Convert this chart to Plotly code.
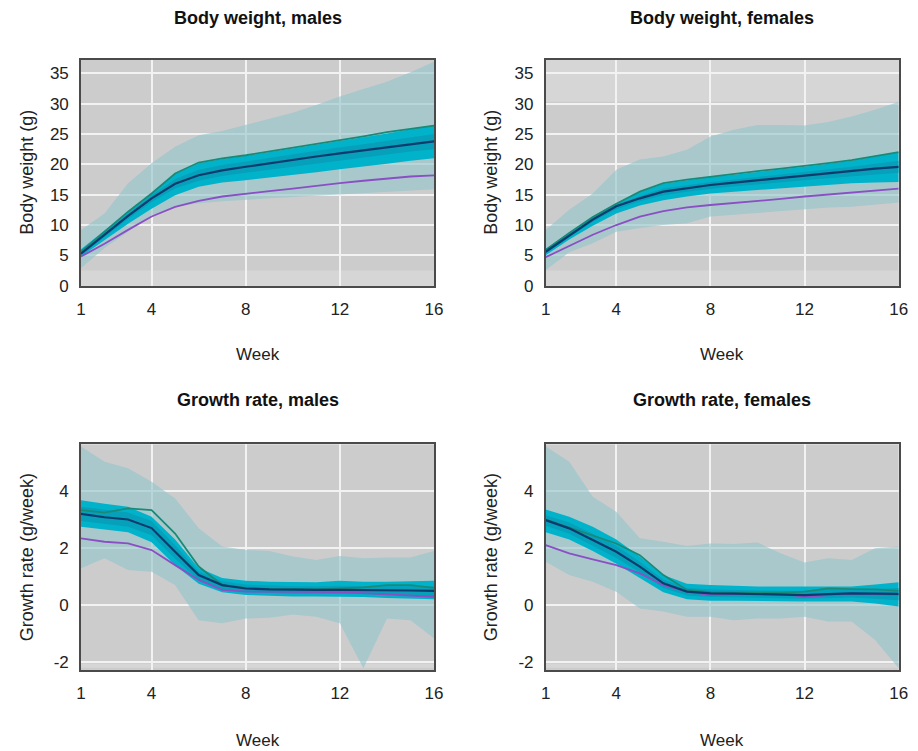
import plotly.graph_objects as go

weeks = list(range(1, 17))
x_tickvals = [1, 4, 8, 12, 16]

# ---- Body weight, males ----
bwm_mean = [5.3, 8.4, 11.5, 14.4, 16.8, 18.2, 19.0, 19.6, 20.2, 20.7, 21.3, 21.8, 22.3, 22.8, 23.3, 23.8]
bwm_upper = [5.6, 8.9, 12.2, 15.2, 18.5, 20.3, 21.0, 21.5, 22.1, 22.7, 23.4, 24.0, 24.6, 25.3, 25.9, 26.4]
bwm_lower = [4.8, 6.9, 9.2, 11.4, 13.0, 14.0, 14.7, 15.2, 15.6, 16.0, 16.5, 16.9, 17.3, 17.7, 18.0, 18.2]
bwm_cyan_hi = [6.0, 9.1, 12.3, 15.3, 18.4, 20.2, 20.9, 21.4, 22.0, 22.6, 23.2, 23.8, 24.4, 25.1, 25.8, 26.4]
bwm_cyan_lo = [4.8, 7.5, 10.2, 12.7, 14.9, 16.3, 17.0, 17.4, 17.8, 18.2, 18.7, 19.2, 19.6, 20.1, 20.6, 21.0]
bwm_inner_hi = [5.7, 8.8, 11.9, 14.9, 17.6, 19.1, 19.9, 20.5, 21.1, 21.6, 22.2, 22.8, 23.3, 23.9, 24.5, 25.0]
bwm_inner_lo = [5.0, 8.0, 11.0, 13.8, 16.0, 17.3, 18.1, 18.6, 19.1, 19.6, 20.2, 20.7, 21.2, 21.6, 22.1, 22.5]
bwm_range_hi = [9.2, 11.9, 16.9, 20.2, 22.9, 24.8, 25.5, 26.5, 27.5, 28.5, 29.8, 31.2, 32.4, 33.6, 35.2, 36.9]
bwm_range_lo = [2.9, 6.2, 8.9, 11.6, 13.0, 13.6, 13.9, 14.2, 14.4, 14.6, 14.8, 15.0, 15.2, 15.4, 15.6, 15.9]

# ---- Body weight, females ----
bwf_mean = [5.6, 8.3, 10.9, 13.1, 14.4, 15.5, 16.1, 16.6, 17.0, 17.4, 17.8, 18.1, 18.5, 18.9, 19.3, 19.6]
bwf_upper = [5.9, 8.7, 11.3, 13.5, 15.5, 16.9, 17.5, 18.0, 18.4, 18.9, 19.3, 19.7, 20.2, 20.7, 21.3, 22.0]
bwf_lower = [4.7, 6.6, 8.4, 10.0, 11.4, 12.3, 12.9, 13.3, 13.6, 13.9, 14.3, 14.7, 15.0, 15.4, 15.7, 16.0]
bwf_cyan_hi = [6.1, 8.8, 11.4, 13.6, 15.4, 16.8, 17.4, 17.9, 18.3, 18.8, 19.2, 19.6, 20.1, 20.6, 21.3, 22.0]
bwf_cyan_lo = [5.0, 7.6, 9.9, 11.9, 13.2, 14.1, 14.7, 15.2, 15.5, 15.8, 16.1, 16.4, 16.7, 16.9, 17.0, 17.1]
bwf_inner_hi = [5.8, 8.5, 11.2, 13.4, 14.8, 16.0, 16.6, 17.1, 17.5, 17.9, 18.4, 18.8, 19.2, 19.6, 20.1, 20.6]
bwf_inner_lo = [5.3, 8.0, 10.5, 12.6, 13.9, 14.9, 15.5, 16.0, 16.4, 16.7, 17.1, 17.4, 17.7, 18.0, 18.3, 18.6]
bwf_range_hi = [9.2, 12.5, 15.2, 19.1, 20.8, 21.3, 22.4, 24.6, 25.7, 26.5, 26.5, 26.4, 27.0, 27.9, 29.0, 30.3]
bwf_range_lo = [2.6, 5.5, 7.0, 8.9, 9.5, 10.0, 10.3, 11.4, 11.7, 12.0, 12.4, 12.7, 12.9, 13.0, 13.3, 13.7]

# ---- Growth rate, males ----
grm_mean = [3.2, 3.08, 3.0, 2.7, 1.87, 1.05, 0.70, 0.58, 0.55, 0.53, 0.53, 0.53, 0.53, 0.52, 0.51, 0.5]
grm_upper = [3.33, 3.24, 3.39, 3.33, 2.51, 1.35, 0.7, 0.6, 0.57, 0.55, 0.55, 0.58, 0.62, 0.7, 0.7, 0.6]
grm_lower = [2.34, 2.22, 2.16, 1.93, 1.40, 0.88, 0.53, 0.47, 0.47, 0.47, 0.46, 0.45, 0.42, 0.38, 0.33, 0.29]
grm_cyan_hi = [3.68, 3.55, 3.45, 3.1, 2.3, 1.3, 0.95, 0.85, 0.82, 0.8, 0.8, 0.85, 0.82, 0.82, 0.84, 0.85]
grm_cyan_lo = [2.75, 2.65, 2.55, 2.2, 1.4, 0.75, 0.45, 0.35, 0.32, 0.3, 0.3, 0.3, 0.28, 0.25, 0.22, 0.2]
grm_inner_hi = [3.45, 3.35, 3.25, 2.95, 2.1, 1.18, 0.83, 0.72, 0.68, 0.66, 0.66, 0.68, 0.67, 0.66, 0.66, 0.66]
grm_inner_lo = [2.95, 2.85, 2.75, 2.45, 1.62, 0.88, 0.56, 0.45, 0.42, 0.4, 0.4, 0.4, 0.38, 0.36, 0.34, 0.32]
grm_range_hi = [5.56, 5.03, 4.8, 4.33, 3.74, 2.69, 2.05, 1.93, 1.9, 1.7, 1.58, 1.72, 1.64, 1.67, 1.67, 1.9]
grm_range_lo = [1.29, 1.64, 1.23, 1.17, 0.70, -0.53, -0.64, -0.47, -0.45, -0.33, -0.41, -0.64, -2.22, -0.47, -0.53, -1.17]

# ---- Growth rate, females ----
grf_mean = [2.98, 2.69, 2.28, 1.87, 1.35, 0.76, 0.47, 0.41, 0.40, 0.38, 0.36, 0.35, 0.38, 0.41, 0.40, 0.39]
grf_upper = [3.0, 2.72, 2.46, 2.16, 1.75, 1.05, 0.53, 0.45, 0.43, 0.42, 0.43, 0.47, 0.58, 0.56, 0.55, 0.5]
grf_lower = [2.1, 1.81, 1.6, 1.4, 1.11, 0.70, 0.47, 0.35, 0.38, 0.40, 0.40, 0.29, 0.35, 0.40, 0.38, 0.35]
grf_cyan_hi = [3.35, 3.1, 2.75, 2.3, 1.7, 1.05, 0.75, 0.7, 0.68, 0.65, 0.65, 0.65, 0.65, 0.65, 0.72, 0.8]
grf_cyan_lo = [2.55, 2.3, 1.9, 1.45, 0.95, 0.45, 0.2, 0.15, 0.15, 0.15, 0.13, 0.12, 0.12, 0.12, 0.05, -0.05]
grf_inner_hi = [3.15, 2.9, 2.5, 2.08, 1.52, 0.9, 0.6, 0.55, 0.53, 0.51, 0.5, 0.5, 0.52, 0.53, 0.56, 0.6]
grf_inner_lo = [2.78, 2.5, 2.08, 1.65, 1.15, 0.6, 0.33, 0.28, 0.27, 0.25, 0.23, 0.22, 0.24, 0.26, 0.22, 0.17]
grf_range_hi = [5.56, 5.03, 3.8, 3.27, 2.34, 2.22, 2.07, 2.16, 2.14, 2.19, 1.81, 1.49, 1.64, 1.58, 1.99, 2.05]
grf_range_lo = [1.52, 1.05, 0.82, 0.47, -0.12, -0.23, -0.41, -0.41, -0.53, -0.47, -0.47, -0.41, -0.58, -0.58, -1.23, -2.22]

bw_tickvals = [0, 5, 10, 15, 20, 25, 30, 35]
bw_ticktext = ["0", "5", "10", "15", "20", "25", "30", "35"]
gr_tickvals = [-2, 0, 2, 4]
gr_ticktext = ["-2", "0", "2", "4"]

titles = ["Body weight, males", "Body weight, females", "Growth rate, males", "Growth rate, females"]
ytitles = ["Body weight (g)", "Body weight (g)", "Growth rate (g/week)", "Growth rate (g/week)"]
xtitle = "Week"

panels = [
    (bwm_range_lo, bwm_range_hi, bwm_cyan_lo, bwm_cyan_hi, bwm_inner_lo, bwm_inner_hi, bwm_lower, bwm_upper, bwm_mean),
    (bwf_range_lo, bwf_range_hi, bwf_cyan_lo, bwf_cyan_hi, bwf_inner_lo, bwf_inner_hi, bwf_lower, bwf_upper, bwf_mean),
    (grm_range_lo, grm_range_hi, grm_cyan_lo, grm_cyan_hi, grm_inner_lo, grm_inner_hi, grm_lower, grm_upper, grm_mean),
    (grf_range_lo, grf_range_hi, grf_cyan_lo, grf_cyan_hi, grf_inner_lo, grf_inner_hi, grf_lower, grf_upper, grf_mean),
]

# page body has an 8px margin: figure is offset by OFF px, so shrink it and shift coordinates
OFF = 8
W, H = 918 - OFF, 751 - OFF
BG = "#cccccc"
LIGHT_BG = "#d6d6d6"
GRID = "#f2f2f2"
RANGE_C = "rgba(146,197,204,0.62)"
CYAN_C = "#00b3cb"
INNER_C = "#06a0ba"
NAVY = "#0c3c6e"
GREEN = "#1a8a78"
PURPLE = "#8b4fc4"
FONT = "Liberation Sans, Arial, sans-serif"


def px(v):
    return (v - OFF) / W


def py(v):
    return 1 - (v - OFF) / H


# screen-pixel boxes of each plot area (left, right, top, bottom)
boxes = [(81, 434, 60, 285.7), (545.7, 898.7, 60, 285.7),
         (81, 434, 444.3, 670), (545.7, 898.7, 444.3, 670)]
yranges = [[0, 37.2], [0, 37.2], [-2.28, 5.64], [-2.28, 5.64]]

fig = go.Figure()
layout = dict(width=W, height=H, margin=dict(l=0, r=0, t=0, b=0, autoexpand=False),
              paper_bgcolor="white", showlegend=False,
              font=dict(family=FONT, size=17, color="#222"))
annotations = []
shapes = []

for i, (rlo, rhi, clo, chi, ilo, ihi, low, up, mean) in enumerate(panels):
    n = i + 1
    xa = "x" if n == 1 else f"x{n}"
    ya = "y" if n == 1 else f"y{n}"
    kw = dict(x=weeks, xaxis=xa, yaxis=ya, mode="lines", hoverinfo="skip")
    fig.add_trace(go.Scatter(y=rlo, line=dict(width=0, color=RANGE_C), **kw))
    fig.add_trace(go.Scatter(y=rhi, line=dict(width=0, color=RANGE_C), fill="tonexty", fillcolor=RANGE_C, **kw))
    fig.add_trace(go.Scatter(y=clo, line=dict(width=0, color=CYAN_C), **kw))
    fig.add_trace(go.Scatter(y=chi, line=dict(width=0, color=CYAN_C), fill="tonexty", fillcolor=CYAN_C, **kw))
    fig.add_trace(go.Scatter(y=ilo, line=dict(width=0, color=INNER_C), **kw))
    fig.add_trace(go.Scatter(y=ihi, line=dict(width=0, color=INNER_C), fill="tonexty", fillcolor=INNER_C, **kw))
    fig.add_trace(go.Scatter(y=low, line=dict(width=1.8, color=PURPLE), **kw))
    fig.add_trace(go.Scatter(y=up, line=dict(width=1.8, color=GREEN), **kw))
    fig.add_trace(go.Scatter(y=mean, line=dict(width=2.2, color=NAVY), **kw))

    l, r, t, b = boxes[i]
    is_bw = i < 2
    axx = dict(domain=[px(l), px(r)], range=[1, 16], tickvals=x_tickvals,
               showgrid=True, gridcolor=GRID, gridwidth=1.5, zeroline=False,
               showline=True, linecolor="#4a4a4a", linewidth=1.6, mirror=True,
               ticks="", ticklabelstandoff=7, anchor=ya, automargin=False,
               tickfont=dict(size=17, color="#222"), fixedrange=True)
    axy = dict(domain=[py(b), py(t)], range=yranges[i],
               tickvals=bw_tickvals if is_bw else gr_tickvals,
               ticktext=bw_ticktext if is_bw else gr_ticktext,
               showgrid=True, gridcolor=GRID, gridwidth=1.5, zeroline=False,
               showline=True, linecolor="#4a4a4a", linewidth=1.6, mirror=True,
               ticks="", ticklabelstandoff=7, anchor=xa, automargin=False,
               tickfont=dict(size=17, color="#222"), fixedrange=True)
    layout["xaxis" if n == 1 else f"xaxis{n}"] = axx
    layout["yaxis" if n == 1 else f"yaxis{n}"] = axy

    cx = (l + r) / 2
    title_y = 18 if is_bw else 400
    week_y = 355 if is_bw else 740
    ytitle_x = 27 if i % 2 == 0 else 491
    annotations.append(dict(text=f"<b>{titles[i]}</b>", x=px(cx), y=py(title_y),
                            xref="paper", yref="paper", xanchor="center", yanchor="middle",
                            showarrow=False, font=dict(size=18, color="#111")))
    annotations.append(dict(text=xtitle, x=px(cx), y=py(week_y),
                            xref="paper", yref="paper", xanchor="center", yanchor="middle",
                            showarrow=False, font=dict(size=17, color="#222")))
    annotations.append(dict(text=ytitles[i], x=px(ytitle_x), y=py((t + b) / 2),
                            xref="paper", yref="paper", xanchor="center", yanchor="middle",
                            textangle=-90, showarrow=False, font=dict(size=18, color="#222")))

    # lighter background strips
    strips = [(0, 2.5)] if i == 0 else ([(0, 2.5), (30.3, 37.2)] if i == 1 else [(-2.2, -2.06)])
    for (s0, s1) in strips:
        shapes.append(dict(type="rect", xref=xa, yref=ya, x0=1, x1=16, y0=s0, y1=s1,
                           fillcolor=LIGHT_BG, line=dict(width=0), layer="below"))

layout["annotations"] = annotations
layout["shapes"] = shapes
layout["plot_bgcolor"] = BG
fig.update_layout(**layout)
fig.write_html("out.html")
